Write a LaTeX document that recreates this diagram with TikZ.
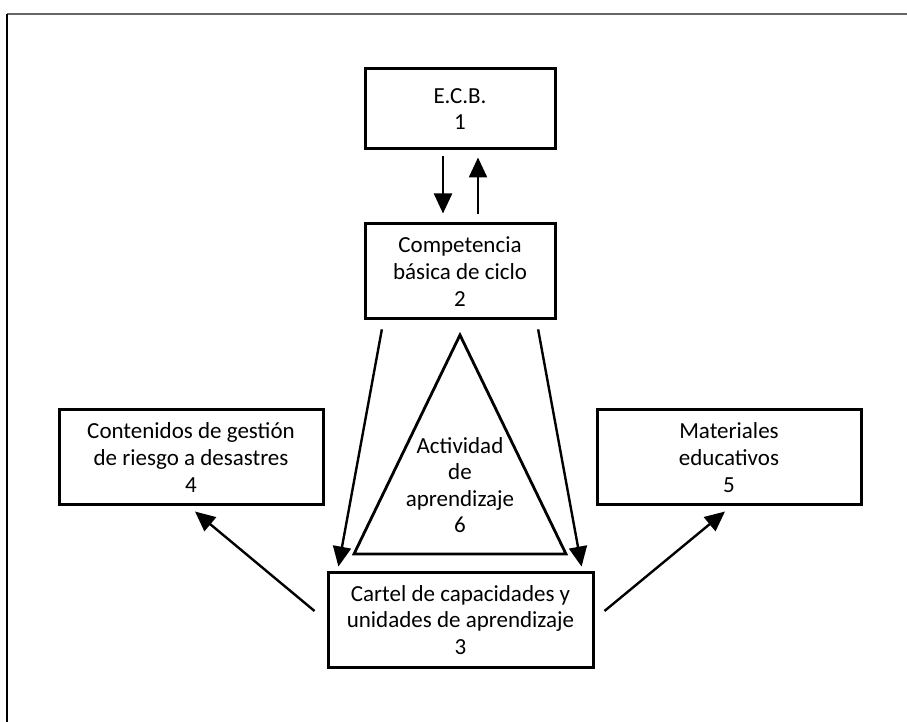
\documentclass[tikz,border=0pt]{standalone}
\usepackage{fontspec}
\setmainfont{Carlito}
\usetikzlibrary{arrows.meta}
\tikzset{
 caja/.style={
 rectangle,
 draw=black, line width=1.5pt,
 inner sep=0pt,
 align=center,
 font=\fontsize{11.5}{13.3}\selectfont},
 flecha/.style={
 line width=1.2pt,
 -{Triangle[length=10pt,width=9pt]}}
}

\begin{document}
\begin{tikzpicture}[x=0.5pt,y=-0.5pt]
 \useasboundingbox (0,0) rectangle (907,722);
 % marco
 \draw[black!60, line width=0.7pt] (7,14) -- (907,14);
 \draw[black, line width=0.7pt] (7,14) -- (7,722);

 \node[caja, minimum width=95pt, minimum height=40pt] (ecb) at (460,109) {E.C.B.\\1};
 \node[caja, minimum width=95pt, minimum height=47.5pt] (comp) at (460,271.5) {Competencia\\básica de ciclo\\2};
 \node[caja, minimum width=132.5pt, minimum height=47pt] (cartel) at (460.5,620) {Cartel de capacidades y\\unidades de aprendizaje\\3};
 \node[caja, minimum width=132pt, minimum height=47.5pt] (riesgo) at (191,457.5) {Contenidos de gestión\\de riesgo a desastres\\4};
 \node[caja, minimum width=132pt, minimum height=47.5pt] (mater) at (729,457.5) {Materiales\\educativos\\5};

 % triangulo
 \coordinate (cima) at (460,335);
 \coordinate (baseizq) at (354,554);
 \coordinate (baseder) at (566,554);
 \draw[line width=1.4pt] (cima) -- (baseizq) -- (baseder) -- cycle;
 \node[caja, draw=none] (activ) at (460,485) {Actividad\\de\\aprendizaje\\6};

 \draw[flecha, shorten <=3pt, shorten >=4.5pt] ([xshift=-8.5pt]ecb.south) -- ([xshift=-8.5pt]comp.north);
 \draw[flecha, shorten <=4pt, shorten >=3.5pt] ([xshift=9pt]comp.north) -- ([xshift=9pt]ecb.south);
 \draw[flecha, shorten <=4.5pt, shorten >=2.5pt] ([xshift=10pt]comp.south west) -- ([xshift=5.5pt]cartel.north west);
 \draw[flecha, shorten <=4.5pt, shorten >=2.5pt] ([xshift=-10pt]comp.south east) -- ([xshift=-6pt]cartel.north east);
 \draw[flecha] ([xshift=-6pt,yshift=4.5pt]cartel.west) -- ([xshift=2pt,yshift=-2.5pt]riesgo.south);
 \draw[flecha] ([xshift=5pt,yshift=4.5pt]cartel.east) -- ([xshift=-2pt,yshift=-2.5pt]mater.south);
\end{tikzpicture}
\end{document}
